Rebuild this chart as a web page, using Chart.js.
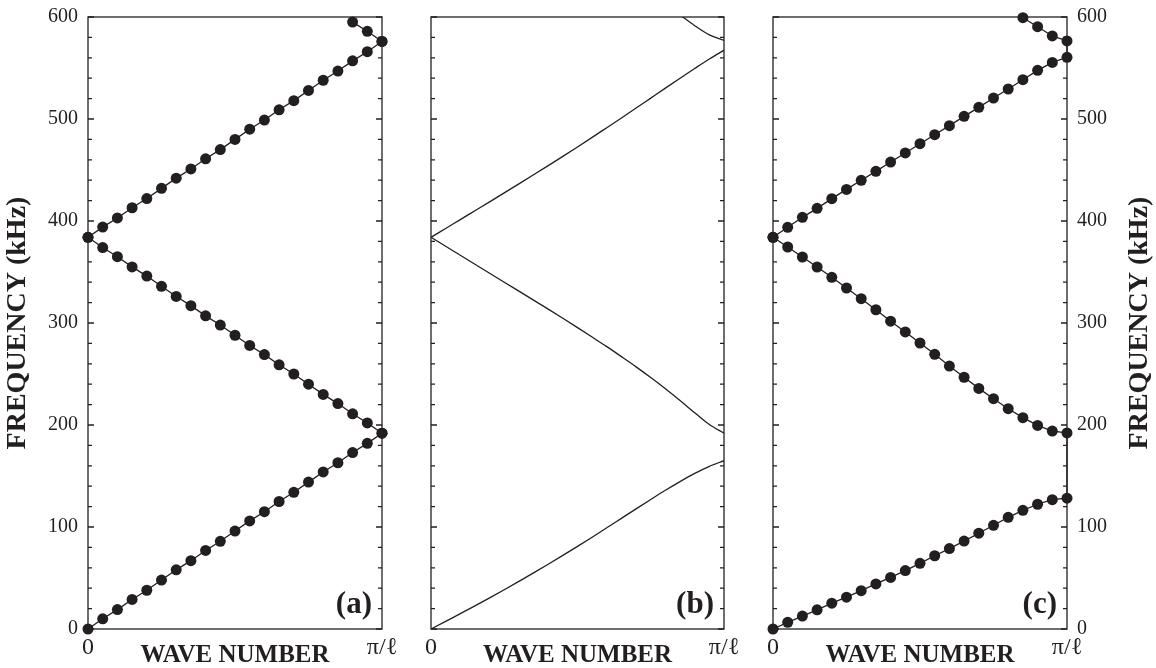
<!DOCTYPE html>
<html>
<head>
<meta charset="utf-8">
<title>Dispersion curves</title>
<script src="https://cdn.jsdelivr.net/npm/chart.js"></script>
<style>
  body { margin: 0; background: #fff; }
  #wrap { position: relative; width: 1156px; height: 668px; overflow: hidden; background: #fff; }
  canvas { position: absolute; top: 0; }
</style>
</head>
<body>
<div id="wrap">
  <canvas id="panelA" width="400" height="668" style="left:0px"></canvas>
  <canvas id="panelB" width="360" height="668" style="left:400px"></canvas>
  <canvas id="panelC" width="396" height="668" style="left:760px"></canvas>
</div>
<script>
// wave number steps, 0 .. pi/l in 20 steps
const waveK = [0, 1, 2, 3, 4, 5, 6, 7, 8, 9, 10, 11, 12, 13, 14, 15, 16, 17, 18, 19, 20];
const xTickLabels = ['0', 'π/ℓ'];

// panel (a) - frequency in kHz
const aBand1 = [0, 10, 19, 29, 38, 48, 58, 67, 77, 86, 96, 106, 115, 125, 134, 144, 154, 163, 173, 182, 192];
const aBand2 = [384, 374, 365, 355, 346, 336, 326, 317, 307, 298, 288, 278, 269, 259, 250, 240, 230, 221, 211, 202, 192];
const aBand3 = [384, 394, 403, 413, 422, 432, 442, 451, 461, 470, 480, 490, 499, 509, 518, 528, 538, 547, 557, 566, 576];
const aBand4K = [18, 19, 20];
const aBand4 = [595, 586, 576];

// panel (b)
const bBand1 = [0, 7.5, 15, 22.7, 30.5, 38.5, 46.7, 55, 63.5, 72.2, 81, 90, 99.2, 108.5, 117.8, 127, 136, 144.5, 152.5, 159.5, 165];
const bBand2 = [384, 375.2, 366.4, 357.6, 348.8, 340, 331.2, 322.4, 313.6, 304.6, 295.5, 286.2, 276.8, 267, 257, 246.5, 235.5, 224, 212, 200.5, 192];
const bBand3 = [384, 392.7, 401.4, 410.1, 418.8, 427.6, 436.4, 445.3, 454.3, 463.4, 472.6, 482, 491.5, 501, 510.7, 520.5, 530.3, 540, 549.5, 558.8, 567.5];
const bBand4K = [17, 18, 19, 20];
const bBand4 = [602, 591.5, 582.5, 577];

// panel (c)
const cBand1 = [0, 6.5, 12.7, 18.8, 25.3, 31.2, 37.6, 44.2, 50.6, 57.3, 64.4, 71.8, 78.8, 86.2, 93.9, 101.7, 109.5, 116.3, 122.3, 126.8, 128.3];
const cBand2 = [384, 374.5, 364.7, 354.9, 344.8, 334.3, 323.8, 313, 301.8, 291.2, 280.4, 269.3, 257.8, 246.8, 235.9, 225.8, 216, 207.2, 199.6, 194.1, 192.2];
const cBand3 = [384, 393.8, 403.6, 412.4, 421.9, 431, 439.9, 448.7, 457.8, 466.7, 475.8, 484.6, 493.5, 502.6, 511.4, 520.6, 529.4, 538.5, 547.7, 555.5, 560.5];
const cBand4K = [17, 18, 19, 20];
const cBand4 = [599.3, 590.5, 581.4, 576.5];

const ink = '#231f20';
const serif = "'Liberation Serif', 'Times New Roman', serif";

function toPoints(ks, fs) {
    return ks.map((k, i) => ({ x: k, y: fs[i] }));
}

// folded bands: out to pi/l, back to 0, out again, back again
function zigzag(b1, b2, b3, b4k, b4) {
    let pts = toPoints(waveK, b1);
    pts = pts.concat(toPoints(waveK, b2).reverse());
    pts = pts.concat(toPoints(waveK, b3));
    pts = pts.concat(toPoints(b4k, b4).reverse());
    return pts;
}

// box round the plot, inward ticks both sides, panel letter
const framePlugin = {
    id: 'frame',
    beforeDatasetsDraw(chart, args, opts) {
        const ctx = chart.ctx;
        const area = chart.chartArea;
        const y = chart.scales.y;
        ctx.save();
        ctx.strokeStyle = ink;
        ctx.lineWidth = 1.3;
        ctx.strokeRect(area.left, area.top, area.right - area.left, area.bottom - area.top);
        ctx.beginPath();
        for (let v = 0; v <= 600; v += 20) {
            const py = y.getPixelForValue(v);
            const len = v % 100 === 0 ? 6 : 4;
            ctx.moveTo(area.left, py);
            ctx.lineTo(area.left + len, py);
            ctx.moveTo(area.right, py);
            ctx.lineTo(area.right - len, py);
        }
        ctx.stroke();
        ctx.restore();
    },
    afterDatasetsDraw(chart, args, opts) {
        const ctx = chart.ctx;
        const area = chart.chartArea;
        ctx.save();
        ctx.fillStyle = ink;
        ctx.font = 'bold 31px ' + serif;
        ctx.textAlign = 'right';
        ctx.textBaseline = 'alphabetic';
        ctx.fillText(opts.letter, area.right - 10, area.bottom - 16);
        if (opts.sideTitle) {
            ctx.translate(opts.sideX, (area.top + area.bottom) / 2);
            ctx.rotate(-Math.PI / 2);
            ctx.font = 'bold 28px ' + serif;
            ctx.textAlign = 'center';
            ctx.textBaseline = 'middle';
            ctx.fillText(opts.sideTitle, 0, 0);
        }
        ctx.restore();
    }
};

function makeChart(id, datasets, side, pad, frameOpts) {
    let ctx = document.getElementById(id).getContext('2d');
    return new Chart(ctx, {
        type: 'scatter',
        data: { datasets: datasets },
        options: {
            responsive: false,
            animation: false,
            events: [],
            layout: { padding: pad },
            plugins: {
                legend: { display: false },
                tooltip: { enabled: false },
                frame: frameOpts
            },
            scales: {
                x: {
                    type: 'linear',
                    min: 0,
                    max: 20,
                    grid: { display: false, drawTicks: false },
                    border: { display: false },
                    afterBuildTicks: s => { s.ticks = [{ value: 0 }, { value: 20 }]; },
                    ticks: {
                        padding: 4,
                        color: ink,
                        autoSkip: false,
                        maxRotation: 0,
                        font: { family: serif, size: 24 },
                        callback: (v, i) => xTickLabels[i]
                    },
                    title: {
                        display: true,
                        text: 'WAVE NUMBER',
                        color: ink,
                        font: { family: serif, size: 25, weight: 'bold', lineHeight: 1 },
                        padding: { top: -1, bottom: 0 }
                    },
                    afterFit: s => {
                        s.height = 39;
                        s.paddingLeft = 0;
                        s.paddingRight = 0;
                    }
                },
                y: {
                    min: 0,
                    max: 600,
                    display: side !== 'none',
                    position: side === 'right' ? 'right' : 'left',
                    grid: { display: false, drawTicks: false },
                    border: { display: false },
                    ticks: {
                        stepSize: 100,
                        padding: 10,
                        color: ink,
                        font: { family: serif, size: 20 }
                    },
                    title: {
                        display: side === 'left',
                        text: 'FREQUENCY (kHz)',
                        color: ink,
                        font: { family: serif, size: 28, weight: 'bold', lineHeight: 1 },
                        padding: { top: 4, bottom: 0 }
                    },
                    afterFit: s => {
                        if (side === 'none') s.width = 0;
                        else s.width = side === 'left' ? 88 : 89;
                        s.paddingTop = 0;
                        s.paddingBottom = 0;
                    }
                }
            }
        },
        plugins: [framePlugin]
    });
}

function dotLine(points) {
    return {
        data: points,
        showLine: true,
        borderColor: ink,
        borderWidth: 1.3,
        pointRadius: 5.5,
        pointBackgroundColor: ink,
        pointBorderWidth: 0,
        tension: 0,
        clip: false
    };
}

function smoothLine(ks, fs) {
    return {
        data: toPoints(ks, fs),
        showLine: true,
        borderColor: ink,
        borderWidth: 1.3,
        pointRadius: 0,
        cubicInterpolationMode: 'monotone'
    };
}

makeChart('panelA',
    [dotLine(zigzag(aBand1, aBand2, aBand3, aBand4K, aBand4))],
    'left', { left: 0, right: 18, top: 17, bottom: 0 }, { letter: '(a)' });

makeChart('panelB',
    [smoothLine(waveK, bBand1), smoothLine(waveK, bBand2), smoothLine(waveK, bBand3), smoothLine(bBand4K, bBand4)],
    'none', { left: 31, right: 36, top: 17, bottom: 0 }, { letter: '(b)' });

makeChart('panelC',
    [dotLine(zigzag(cBand1, cBand2, cBand3, cBand4K, cBand4))],
    'right', { left: 13, right: 0, top: 17, bottom: 0 },
    { letter: '(c)', sideTitle: 'FREQUENCY (kHz)', sideX: 380 });
</script>
</body>
</html>
